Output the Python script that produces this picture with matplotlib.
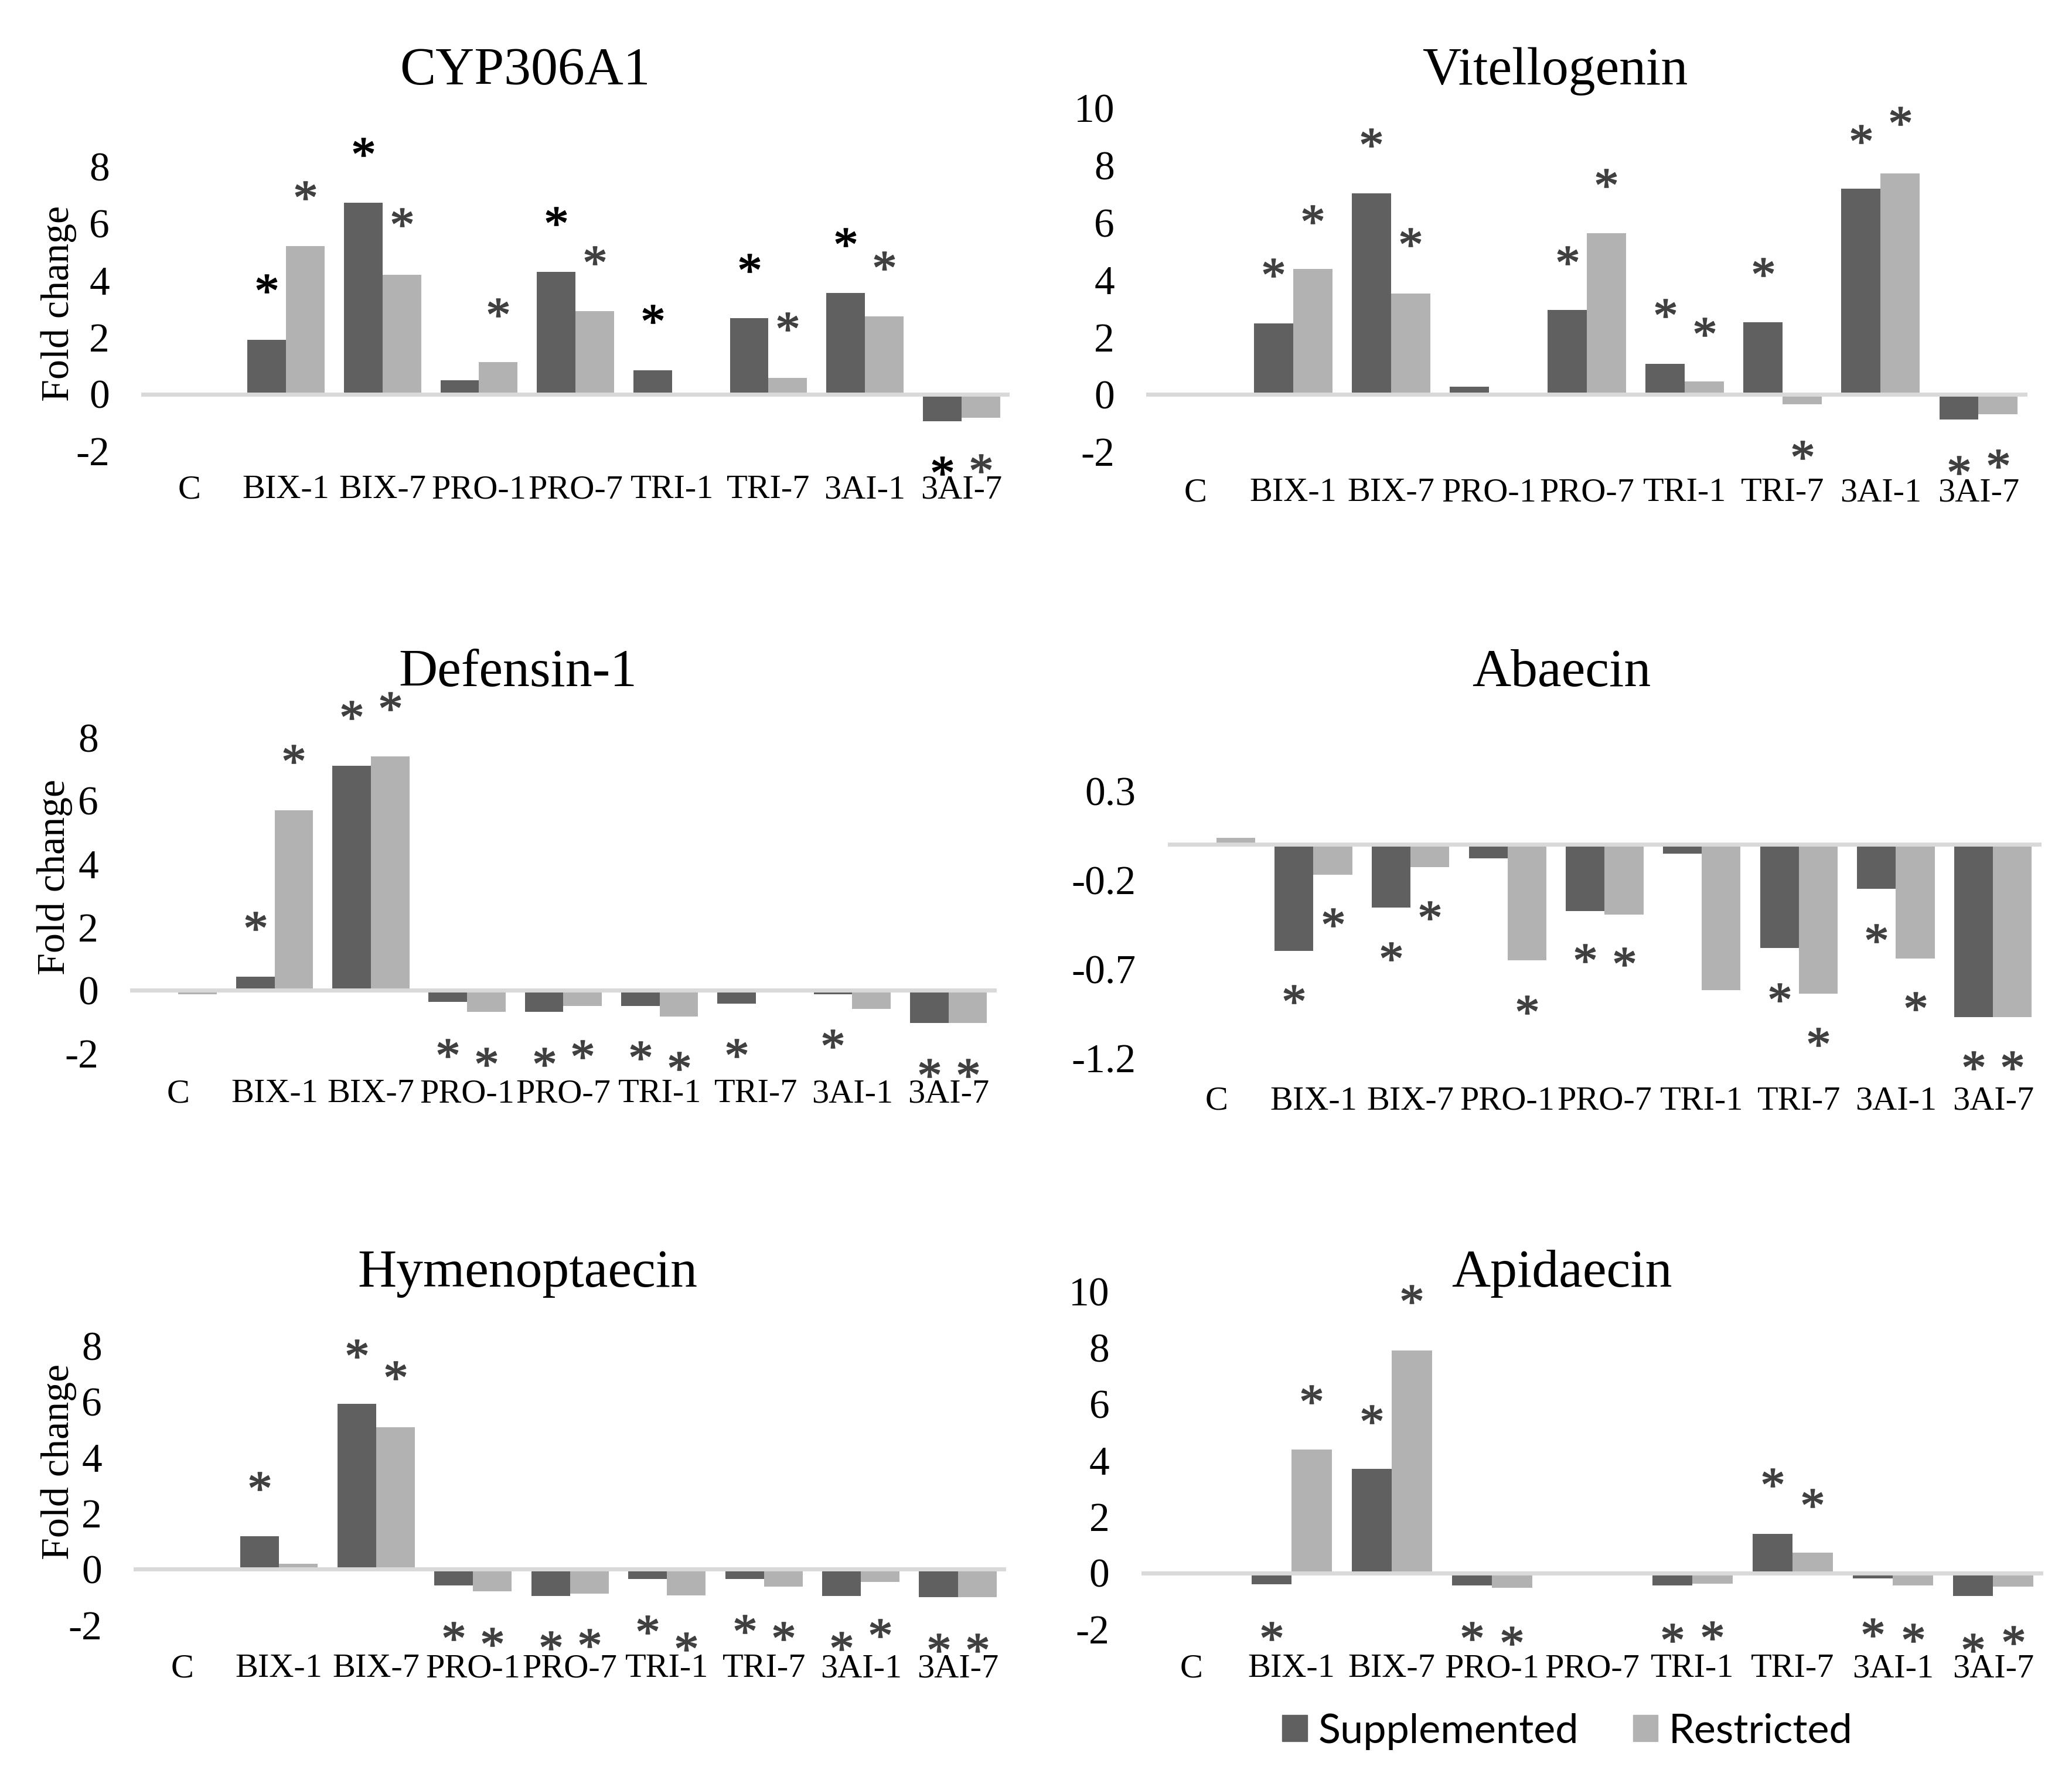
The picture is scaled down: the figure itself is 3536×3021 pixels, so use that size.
import numpy as np
import matplotlib
matplotlib.use('Agg')
import matplotlib.pyplot as plt
from matplotlib.patches import Patch
from matplotlib.textpath import TextPath
from matplotlib.font_manager import FontProperties
from matplotlib.path import Path

plt.rcParams['font.family'] = 'Liberation Serif'

nan = np.nan

categories = ['C', 'BIX-1', 'BIX-7', 'PRO-1', 'PRO-7', 'TRI-1', 'TRI-7', '3AI-1', '3AI-7']

# CYP306A1
cyp_supp = [0, 1.91, 6.73, 0.48, 4.29, 0.84, 2.67, 3.56, -0.96]
cyp_rest = [0, 5.21, 4.20, 1.13, 2.91, 0, 0.57, 2.72, -0.84]
cyp_star_supp = [nan, 3.88, 8.68, nan, 6.24, 2.81, 4.61, 5.51, -2.52]
cyp_star_rest = [nan, 7.15, 6.21, 3.04, 4.88, nan, 2.55, 4.68, -2.43]

# Vitellogenin
vit_supp = [0, 2.48, 7.02, 0.26, 2.94, 1.06, 2.51, 7.19, -0.88]
vit_rest = [0, 4.39, 3.53, 0.05, 5.62, 0.45, -0.35, 7.72, -0.70]
vit_star_supp = [nan, 4.43, 8.96, nan, 4.86, 3.01, 4.45, 9.09, -2.47]
vit_star_rest = [nan, 6.29, 5.48, nan, 7.56, 2.35, -1.94, 9.71, -2.25]

# Defensin-1
def_supp = [0, 0.43, 7.10, -0.37, -0.69, -0.49, -0.43, -0.13, -1.04]
def_rest = [-0.12, 5.69, 7.40, -0.69, -0.49, -0.83, 0, -0.59, -1.04]
def_star_supp = [nan, 2.20, 8.87, -1.83, -2.11, -1.90, -1.83, -1.54, -2.47]
def_star_rest = [nan, 7.47, 9.15, -2.11, -1.87, -2.23, nan, nan, -2.47]

# Abaecin
aba_supp = [0, -0.597, -0.353, -0.08, -0.374, -0.053, -0.58, -0.25, -0.968]
aba_rest = [0.038, -0.17, -0.128, -0.649, -0.395, -0.817, -0.836, -0.639, -0.968]
aba_star_supp = [nan, -0.84, -0.60, nan, -0.61, nan, -0.83, -0.50, -1.21]
aba_star_rest = [nan, -0.41, -0.37, -0.90, -0.63, nan, -1.08, -0.88, -1.21]

# Hymenoptaecin
hym_supp = [0, 1.19, 5.93, -0.59, -0.95, -0.36, -0.35, -0.95, -1.01]
hym_rest = [0, 0.19, 5.09, -0.79, -0.88, -0.93, -0.63, -0.46, -1.01]
hym_star_supp = [nan, 3.16, 7.91, -2.22, -2.55, -1.99, -1.96, -2.57, -2.64]
hym_star_rest = [nan, nan, 7.12, -2.42, -2.48, -2.59, -2.22, -2.12, -2.64]

# Apidaecin
api_supp = [0, -0.41, 3.70, -0.45, 0, -0.45, 1.38, -0.20, -0.83]
api_rest = [0, 4.39, 7.90, -0.54, -0.04, -0.39, 0.71, -0.44, -0.48]
api_star_supp = [nan, -2.08, 5.64, -2.08, nan, -2.14, 3.39, -1.95, -2.49]
api_star_rest = [nan, 6.35, 9.91, -2.23, nan, -2.05, 2.66, -2.14, -2.21]

ticks_8 = [-2, 0, 2, 4, 6, 8]
ticks_10 = [-2, 0, 2, 4, 6, 8, 10]
ticks_aba = [-1.2, -0.7, -0.2, 0.3]

DARK = '#606060'
LIGHT = '#b2b2b2'
STAR = '#404040'

# asterisk as a centred marker path
tp = TextPath((0, 0), '*', size=1, prop=FontProperties(family='Liberation Serif'))
ext = tp.get_extents()
verts = tp.vertices - [(ext.x0 + ext.x1) / 2, (ext.y0 + ext.y1) / 2]
verts[tp.codes == Path.CLOSEPOLY] = 0
star = Path(verts, tp.codes)

fig = plt.figure(figsize=(35.36, 30.21), dpi=100)

panels = [
    # title, supp, rest, star supp, star rest, ticks, ylim, rect, title pos, supp star colour, x label pad
    ('CYP306A1', cyp_supp, cyp_rest, cyp_star_supp, cyp_star_rest, ticks_8, (-2, 8),
     [0.0682, 0.7452, 0.4191, 0.1608], (0.2534, 0.9523), 'black', 29),
    ('Vitellogenin', vit_supp, vit_rest, vit_star_supp, vit_star_rest, ticks_10, (-2, 10),
     [0.5532, 0.7448, 0.4253, 0.1942], (0.7505, 0.9523), STAR, 32),
    ('Defensin-1', def_supp, def_rest, def_star_supp, def_star_rest, ticks_8, (-2, 8),
     [0.0628, 0.4048, 0.4182, 0.1785], (0.2500, 0.6124), STAR, 31),
    ('Abaecin', aba_supp, aba_rest, aba_star_supp, aba_star_rest, ticks_aba, (-1.2, 0.3),
     [0.5636, 0.4020, 0.4217, 0.1512], (0.7537, 0.6124), STAR, 34),
    ('Hymenoptaecin', hym_supp, hym_rest, hym_star_supp, hym_star_rest, ticks_8, (-2, 8),
     [0.0645, 0.0819, 0.4212, 0.1576], (0.2546, 0.2731), STAR, 35),
    ('Apidaecin', api_supp, api_rest, api_star_supp, api_star_rest, ticks_10, (-2, 10),
     [0.5508, 0.0796, 0.4353, 0.1907], (0.7537, 0.2731), STAR, 30),
]

x = np.arange(len(categories))
w = 0.4

for title, supp, rest, st_s, st_r, ticks, ylim, rect, tpos, scol, xpad in panels:
    ax = fig.add_axes(rect)
    ax.bar(x - w / 2, supp, width=w, color=DARK, zorder=2)
    ax.bar(x + w / 2, rest, width=w, color=LIGHT, zorder=2)
    ax.axhline(0, color='#d9d9d9', lw=5, zorder=3)
    ax.plot(x - w / 2, st_s, linestyle='none', marker=star, markersize=24.5,
            markerfacecolor=scol, markeredgecolor=scol, markeredgewidth=1.2,
            clip_on=False, zorder=4)
    ax.plot(x + w / 2, st_r, linestyle='none', marker=star, markersize=24.5,
            markerfacecolor=STAR, markeredgecolor=STAR, markeredgewidth=1.2,
            clip_on=False, zorder=4)
    ax.set_xlim(-0.5, len(categories) - 0.5)
    ax.set_ylim(*ylim)
    ax.set_xticks(x)
    ax.set_xticklabels(categories)
    ax.set_yticks(ticks)
    ax.set_yticklabels([f'{t:g}' for t in ticks])
    ax.tick_params(axis='x', length=0, pad=xpad, labelsize=42)
    ax.tick_params(axis='y', length=0, pad=39, labelsize=50)
    for s in ax.spines.values():
        s.set_visible(False)
    fig.text(tpos[0], tpos[1], title, ha='center', va='baseline', fontsize=66)

# y axis labels only on the left column
for ypos, xpos in [(0.8287, 0.0283), (0.5046, 0.0265), (0.1740, 0.0283)]:
    fig.text(xpos, ypos, 'Fold change', rotation=90, ha='center', va='center', fontsize=49)

handles = [Patch(color=DARK), Patch(color=LIGHT)]
fig.legend(handles, ['Supplemented', 'Restricted'], loc='center', bbox_to_anchor=(0.7565, 0.0218),
           ncol=2, frameon=False, prop=FontProperties(family='Lato', size=50.5),
           handlelength=0.61, handleheight=0.61, handletextpad=0.26, columnspacing=1.32)

fig.savefig('out.png', dpi=100)
